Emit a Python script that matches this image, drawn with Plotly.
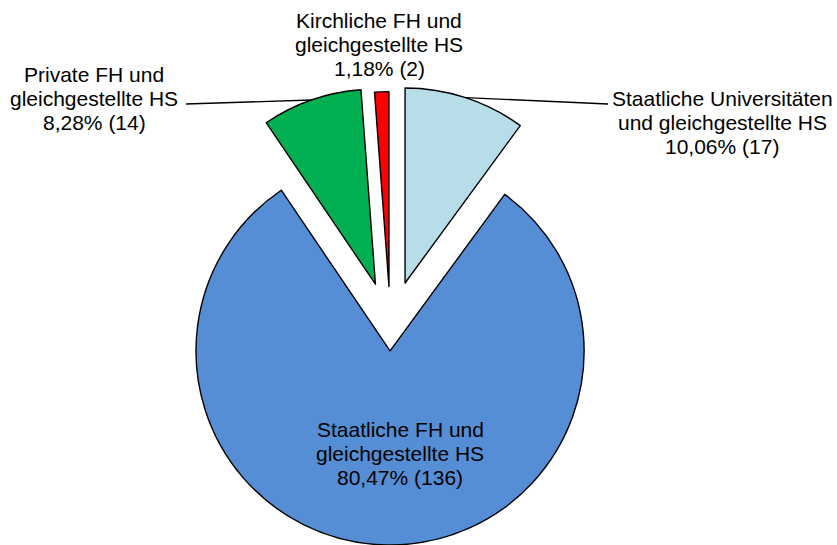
import math
import plotly.graph_objects as go

# data
labels = [
    "Staatliche Universitäten<br>und gleichgestellte HS",
    "Staatliche FH und<br>gleichgestellte HS",
    "Private FH und<br>gleichgestellte HS",
    "Kirchliche FH und<br>gleichgestellte HS",
]
values = [17, 136, 14, 2]
colors = ["#B7DDE8", "#558ED5", "#00B050", "#FF0000"]
pulls = [0.24, 0.125, 0.235, 0.21]

W, H = 837, 545
R = 195                 # pie radius in px
CX, CY = 390.5, 327.5   # unpulled pie center in px
FONT = dict(family="Liberation Sans, Arial, sans-serif", size=21, color="black")
LINE_H = 24

# where each label block goes (center x, first line y) and leader line end
label_pos = [(722, 98), (400, 429), (94, 74), (379, 20)]
leader_end = [(608, 104), None, (186, 104), None]


def px(x, y):
    return x / W, 1 - y / H


total = sum(values)
fig = go.Figure()

cum = 0
for i, v in enumerate(values):
    mid = (cum + v / 2) / total * 2 * math.pi
    cum += v
    dx, dy = math.sin(mid), -math.cos(mid)
    cx = CX + pulls[i] * R * dx
    cy = CY + pulls[i] * R * dy

    fig.add_trace(go.Pie(
        values=values,
        sort=False,
        direction="clockwise",
        rotation=0,
        textinfo="none",
        hoverinfo="skip",
        showlegend=False,
        marker=dict(
            colors=[c if j == i else "rgba(0,0,0,0)" for j, c in enumerate(colors)],
            line=dict(color="black",
                      width=[1.4 if j == i else 0 for j in range(len(values))]),
        ),
        domain=dict(x=[(cx - R) / W, (cx + R) / W],
                    y=[max(0, 1 - (cy + R) / H), min(1, 1 - (cy - R) / H)]),
    ))

    # label text
    pct = f"{v / total * 100:.2f}".replace(".", ",")
    lines = labels[i].split("<br>") + [f"{pct}% ({v})"]
    lx, ly = label_pos[i]
    for k, t in enumerate(lines):
        ax, ay = px(lx, ly + k * LINE_H)
        fig.add_annotation(x=ax, y=ay, xref="paper", yref="paper",
                           text=t, showarrow=False, font=FONT,
                           xanchor="center", yanchor="middle")

    # leader line from the arc midpoint to the label
    if leader_end[i] is not None:
        x0, y0 = px(cx + R * dx, cy + R * dy)
        x1, y1 = px(*leader_end[i])
        fig.add_shape(type="line", xref="paper", yref="paper",
                      x0=x0, y0=y0, x1=x1, y1=y1,
                      line=dict(color="black", width=1.4))

fig.update_layout(
    width=W, height=H,
    margin=dict(l=0, r=0, t=0, b=0),
    paper_bgcolor="white",
    plot_bgcolor="white",
)

# page body has a default 8px margin, drop it so the figure fills the window
fig.write_html("out.html", config={"displayModeBar": False},
               post_script="document.body.style.margin='0';")
